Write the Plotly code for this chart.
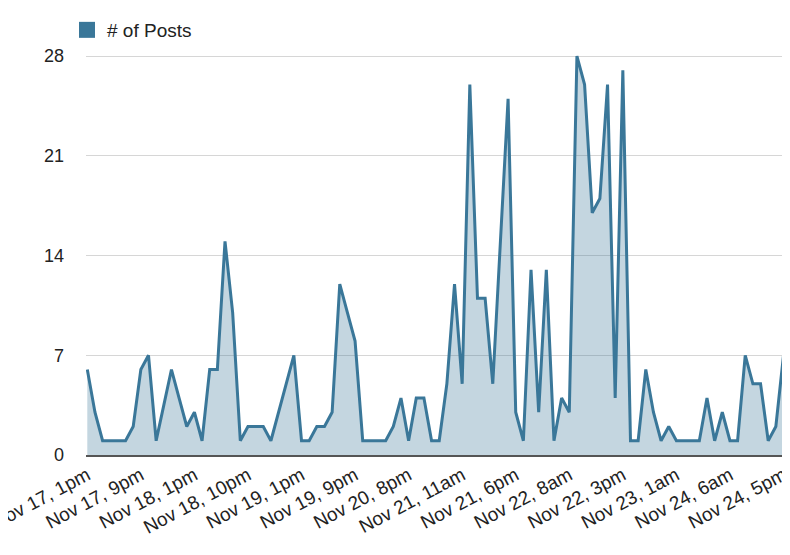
import plotly.graph_objects as go

posts = [6, 3, 1, 1, 1, 1, 2, 6, 7, 1,
         3.5, 6, 4, 2, 3, 1, 6, 6, 15, 10,
         1, 2, 2, 2, 1, 3, 5, 7, 1, 1,
         2, 2, 3, 12, 10, 8, 1, 1, 1, 1,
         2, 4, 1, 4, 4, 1, 1, 5, 12, 5,
         26, 11, 11, 5, 15, 25, 3, 1, 13, 3,
         13, 1, 4, 3, 28, 26, 17, 18, 26, 4,
         27, 1, 1, 6, 3, 1, 2, 1, 1, 1,
         1, 4, 1, 3, 1, 1, 7, 5, 5, 1,
         2, 7, 3]
x_index = list(range(len(posts)))

tick_labels = ["Nov 17, 1pm", "Nov 17, 9pm", "Nov 18, 1pm", "Nov 18, 10pm",
               "Nov 19, 1pm", "Nov 19, 9pm", "Nov 20, 8pm", "Nov 21, 11am",
               "Nov 21, 6pm", "Nov 22, 8am", "Nov 22, 3pm", "Nov 23, 1am",
               "Nov 24, 6am", "Nov 24, 5pm"]
tick_positions = [i * 7 for i in range(len(tick_labels))]
y_ticks = [0, 7, 14, 21, 28]

LINE = "#3a7799"
FILL = "rgba(58,119,153,0.3)"
FONT = "Liberation Sans, Arial, sans-serif"

fig = go.Figure()
fig.add_trace(go.Scatter(
    x=x_index, y=posts, mode="lines", fill="tozeroy",
    line=dict(color=LINE, width=3), fillcolor=FILL,
    showlegend=False, name="# of Posts"))
fig.add_trace(go.Scatter(
    x=[None], y=[None], mode="markers", name="# of Posts",
    marker=dict(symbol="square", size=18, color=LINE)))

fig.update_layout(
    width=790, height=555,
    margin=dict(l=78, r=8, t=41, b=108, autoexpand=False),
    paper_bgcolor="white", plot_bgcolor="white",
    font=dict(family=FONT, size=18, color="#222222"),
    showlegend=True,
    legend=dict(x=59 / 790, xref="container", xanchor="left",
                y=1 - 22 / 555, yref="container", yanchor="middle",
                orientation="h", font=dict(size=19, color="#222222"),
                bgcolor="rgba(0,0,0,0)", itemsizing="trace"),
    xaxis=dict(range=[-0.17, 91.85], tickmode="array",
               tickvals=tick_positions, ticktext=tick_labels,
               tickangle=-28, showgrid=False, zeroline=False,
               showline=True, linecolor="#555555", linewidth=2,
               ticks="", automargin=False, ticklabeloverflow="allow",
               tickfont=dict(size=19, color="#222222")),
    yaxis=dict(range=[0, 28.5], tickmode="array", tickvals=y_ticks,
               showgrid=True, gridcolor="#d6d6d6", gridwidth=1,
               zeroline=False, showline=False, ticks="",
               automargin=False, ticklabelstandoff=21,
               tickfont=dict(size=18, color="#222222")),
)

fig.write_html("out.html")
